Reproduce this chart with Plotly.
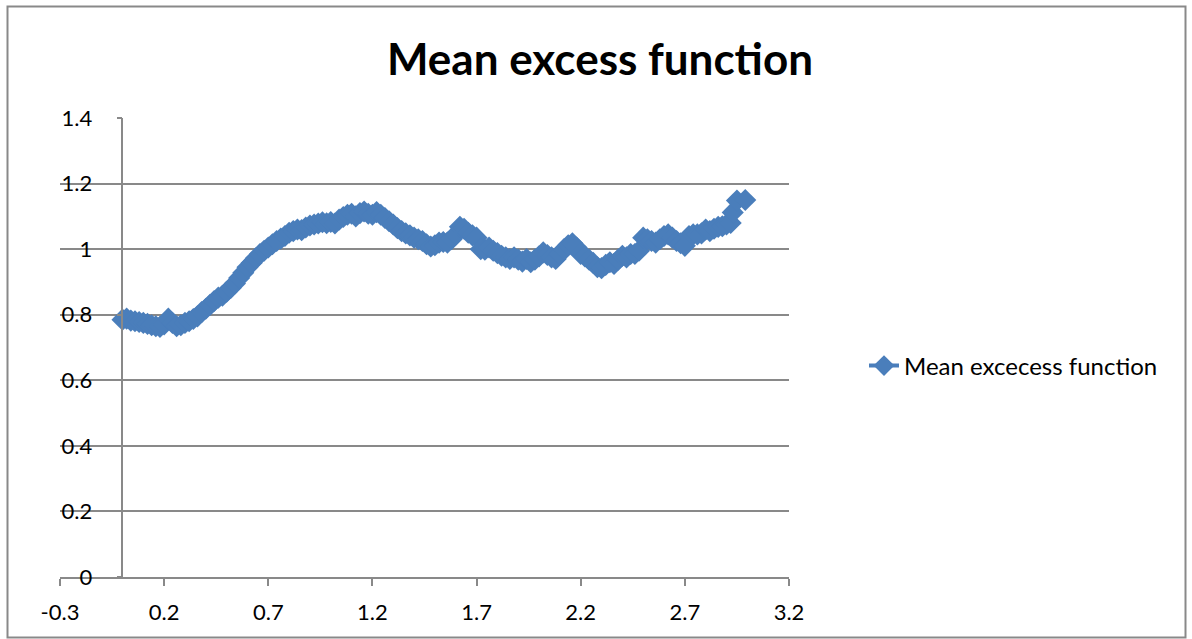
import plotly.graph_objects as go

x_vals = [0.00, 0.02, 0.04, 0.06, 0.08, 0.10, 0.12, 0.14, 0.16, 0.18,
          0.20, 0.22, 0.24, 0.26, 0.28, 0.30, 0.32, 0.34, 0.36, 0.38,
          0.40, 0.42, 0.44, 0.46, 0.48, 0.50, 0.52, 0.54, 0.56, 0.58,
          0.60, 0.62, 0.64, 0.66, 0.68, 0.70, 0.72, 0.74, 0.76, 0.78,
          0.80, 0.82, 0.84, 0.86, 0.88, 0.90, 0.92, 0.94, 0.96, 0.98,
          1.00, 1.02, 1.04, 1.06, 1.08, 1.10, 1.12, 1.14, 1.16, 1.18,
          1.20, 1.22, 1.24, 1.26, 1.28, 1.30, 1.32, 1.34, 1.36, 1.38,
          1.40, 1.42, 1.44, 1.46, 1.48, 1.50, 1.52, 1.54, 1.56, 1.58,
          1.60, 1.62, 1.64, 1.66, 1.68, 1.70, 1.72, 1.74, 1.76, 1.78,
          1.80, 1.82, 1.84, 1.86, 1.88, 1.90, 1.92, 1.94, 1.96, 1.98,
          2.00, 2.02, 2.04, 2.06, 2.08, 2.10, 2.12, 2.14, 2.16, 2.18,
          2.20, 2.22, 2.24, 2.26, 2.28, 2.30, 2.32, 2.34, 2.36, 2.38,
          2.40, 2.42, 2.44, 2.46, 2.48, 2.50, 2.52, 2.54, 2.56, 2.58,
          2.60, 2.62, 2.64, 2.66, 2.68, 2.70, 2.72, 2.74, 2.76, 2.78,
          2.80, 2.82, 2.84, 2.86, 2.88, 2.90, 2.92, 2.93, 2.95, 2.99]

mean_excess = [0.785, 0.788, 0.782, 0.780, 0.778, 0.775, 0.772, 0.768, 0.765, 0.763,
               0.770, 0.788, 0.775, 0.765, 0.768, 0.775, 0.780, 0.787, 0.795, 0.808,
               0.818, 0.830, 0.842, 0.852, 0.858, 0.870, 0.882, 0.895, 0.912, 0.928,
               0.945, 0.958, 0.972, 0.985, 0.995, 1.005, 1.015, 1.025, 1.032, 1.040,
               1.050, 1.055, 1.060, 1.058, 1.066, 1.072, 1.075, 1.078, 1.082, 1.079,
               1.083, 1.078, 1.090, 1.098, 1.105, 1.108, 1.100, 1.110, 1.115, 1.108,
               1.105, 1.113, 1.105, 1.095, 1.085, 1.075, 1.064, 1.055, 1.048, 1.042,
               1.035, 1.030, 1.025, 1.015, 1.008, 1.012, 1.020, 1.022, 1.020, 1.030,
               1.045, 1.068, 1.062, 1.050, 1.042, 1.035, 1.000, 0.998, 1.005, 0.995,
               0.988, 0.980, 0.975, 0.970, 0.975, 0.968, 0.962, 0.970, 0.960, 0.968,
               0.978, 0.990, 0.982, 0.975, 0.970, 0.985, 1.000, 1.012, 1.018, 1.005,
               0.985, 0.978, 0.968, 0.958, 0.945, 0.942, 0.952, 0.960, 0.955, 0.968,
               0.980, 0.975, 0.985, 0.985, 0.995, 1.035, 1.030, 1.025, 1.020, 1.030,
               1.040, 1.045, 1.035, 1.025, 1.018, 1.010, 1.040, 1.045, 1.045, 1.048,
               1.060, 1.055, 1.062, 1.068, 1.070, 1.075, 1.080, 1.112, 1.148, 1.150]

x_ticks = [-0.3, 0.2, 0.7, 1.2, 1.7, 2.2, 2.7, 3.2]
y_ticks = [0, 0.2, 0.4, 0.6, 0.8, 1.0, 1.2, 1.4]

BLUE = "#4A7EBB"
GRID = "#898989"
FONT = "Lato"

fig = go.Figure()
fig.add_trace(go.Scatter(
    x=x_vals, y=mean_excess, mode="lines+markers",
    name="Mean excecess function",
    line=dict(color=BLUE, width=4),
    marker=dict(symbol="diamond", size=17, color=BLUE, line=dict(width=0)),
))

xr = [-0.3, 3.2]
fig.update_layout(
    width=1192, height=639,
    margin=dict(l=60, r=403, t=118, b=62),
    paper_bgcolor="white", plot_bgcolor="white",
    font=dict(family=FONT, size=22, color="black"),
    title=dict(text="<b>Mean excess function</b>", x=(600 - 60) / 729, xref="paper",
               xanchor="center", y=1 - 60 / 639, yanchor="middle",
               font=dict(family=FONT, size=44, color="black")),
    xaxis=dict(range=xr, tickvals=x_ticks, ticktext=[str(v) for v in x_ticks],
               showgrid=False, zeroline=False, showline=True, linecolor=GRID,
               linewidth=1.5, ticks="outside", ticklen=7, tickcolor=GRID,
               tickwidth=1.5, ticklabelstandoff=8,
               tickfont=dict(family=FONT, size=22)),
    yaxis=dict(range=[0, 1.4], tickvals=y_ticks,
               ticktext=["0", "0.2", "0.4", "0.6", "0.8", "1", "1.2", "1.4"],
               showgrid=True, gridcolor=GRID, gridwidth=1.5, zeroline=False,
               showline=True, linecolor=GRID, linewidth=1.5,
               anchor="free", position=0.3 / 3.5,
               ticks="outside", ticklen=5, tickcolor=GRID, tickwidth=1.5,
               ticklabelstandoff=20,
               tickfont=dict(family=FONT, size=22)),
    legend=dict(x=(864 - 60) / 729, xanchor="left", y=(577 - 366) / 459,
                yanchor="middle", font=dict(family=FONT, size=24),
                bgcolor="rgba(0,0,0,0)"),
    showlegend=True,
)

fig.add_shape(type="rect", xref="paper", yref="paper",
              x0=(7.5 - 60) / 729, x1=(1185.5 - 60) / 729,
              y0=(577 - 637.5) / 459, y1=(577 - 6.5) / 459,
              line=dict(color=GRID, width=2), fillcolor="rgba(0,0,0,0)",
              layer="below")

fig.write_html("out.html", config={"displayModeBar": False},
               post_script="document.body.style.margin='0';")
